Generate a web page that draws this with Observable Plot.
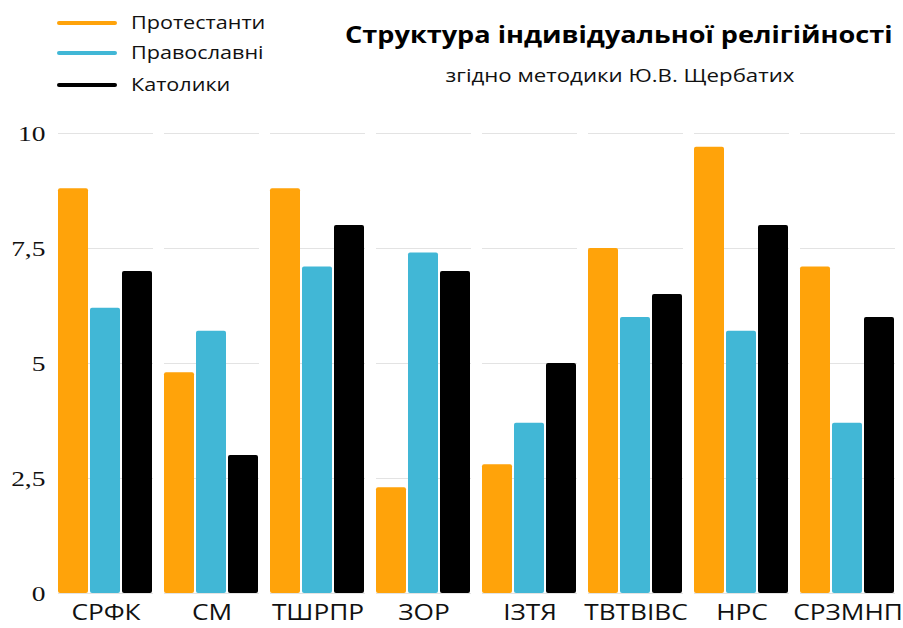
<!DOCTYPE html>
<html>
<head>
<meta charset="utf-8">
<script src="https://cdn.jsdelivr.net/npm/d3@7"></script>
<script src="https://cdn.jsdelivr.net/npm/@observablehq/plot@0.6"></script>
<style>
  html, body { margin: 0; padding: 0; background: #fff; }
  #wrap { position: relative; width: 903px; height: 628px; overflow: hidden; font-family: "Open Sans", sans-serif; }
  #chart { position: absolute; left: 0; top: 0; }
  .leg { position: absolute; left: 57px; height: 20px; }
  .leg .sw { position: absolute; left: 0; top: 8px; width: 60px; height: 4px; border-radius: 2px; }
  .leg .lb { position: absolute; left: 74px; top: -3px; font-size: 18px; white-space: nowrap; color: #111; transform: scaleX(1.2); transform-origin: left center; }
  #title { position: absolute; right: 10px; top: 17px; font-size: 24px; font-weight: 700; white-space: nowrap; color: #000; transform: scaleX(1.13); transform-origin: right center; }
  #subtitle { position: absolute; left: 620px; top: 62px; font-size: 19px; white-space: nowrap; color: #111; transform: translateX(-50%) scaleX(1.17); }
</style>
</head>
<body>
<div id="wrap">
  <div id="chart"></div>
  <div id="legend"></div>
  <div id="title">Структура індивідуальної релігійності</div>
  <div id="subtitle">згідно методики Ю.В. Щербатих</div>
</div>
<script>
const categories = ["СРФК", "СМ", "ТШРПР", "ЗОР", "ІЗТЯ", "ТВТВІВС", "НРС", "СРЗМНП"];
const seriesNames = ["Протестанти", "Православні", "Католики"];
const seriesColors = ["#FFA30A", "#41B7D6", "#000000"];
const protestants = [8.8, 4.8, 8.8, 2.3, 2.8, 7.5, 9.7, 7.1];
const orthodox    = [6.2, 5.7, 7.1, 7.4, 3.7, 6.0, 5.7, 3.7];
const catholics   = [7.0, 3.0, 8.0, 7.0, 5.0, 6.5, 8.0, 6.0];
const yTicks = [0, 2.5, 5, 7.5, 10];

const seriesValues = [protestants, orthodox, catholics];
const data = [];
categories.forEach((c, i) => {
  seriesNames.forEach((s, j) => data.push({cat: c, series: s, value: seriesValues[j][i]}));
});

const chart = Plot.plot({
  width: 903,
  height: 628,
  marginTop: 133,
  marginBottom: 35,
  marginLeft: 58,
  marginRight: 7,
  style: {background: "transparent", overflow: "visible"},
  fx: {domain: categories, paddingInner: 0.1, paddingOuter: 0, tickSize: 0, tickPadding: 12, label: null, axis: "bottom"},
  x: {domain: seriesNames, paddingInner: 0.06, paddingOuter: 0, axis: null},
  y: {domain: [0, 10], ticks: yTicks, tickSize: 0, tickPadding: 13, label: null, tickFormat: d => String(d).replace(".", ",")},
  color: {domain: seriesNames, range: seriesColors},
  marks: [
    Plot.ruleY(yTicks, {stroke: "#e3e3e3", strokeWidth: 1.2}),
    Plot.barY(data, {fx: "cat", x: "series", y: "value", fill: "series", rx: 2})
  ]
});
document.getElementById("chart").appendChild(chart);

chart.querySelectorAll("[aria-label='y-axis tick label'], [aria-label='y-axis'] text").forEach(t => {
  t.style.fontFamily = "'Liberation Serif', serif";
  t.style.fontSize = "22px";
  t.style.fill = "#111";
});
chart.querySelectorAll("[aria-label='fx-axis tick label'], [aria-label='fx-axis'] text").forEach(t => {
  t.style.fontFamily = "'Open Sans', sans-serif";
  t.style.fontSize = "21px";
  t.style.fill = "#111";
});
function stretch(sel, s) {
  chart.querySelectorAll(sel).forEach(t => {
    const x = +t.getAttribute("x") || 0, y = +t.getAttribute("y") || 0;
    const tr = t.getAttribute("transform") || "";
    t.setAttribute("transform", `${tr} translate(${x},${y}) scale(${s},1) translate(${-x},${-y})`);
  });
}
stretch("[aria-label='y-axis tick label'] text", 1.25);
stretch("[aria-label='fx-axis tick label'] text", 1.25);

const leg = document.getElementById("legend");
const rows = [13, 43, 75];
seriesNames.forEach((s, i) => {
  const d = document.createElement("div");
  d.className = "leg";
  d.style.top = rows[i] + "px";
  d.innerHTML = `<div class="sw" style="background:${seriesColors[i]}"></div><div class="lb">${s}</div>`;
  leg.appendChild(d);
});
</script>
</body>
</html>
